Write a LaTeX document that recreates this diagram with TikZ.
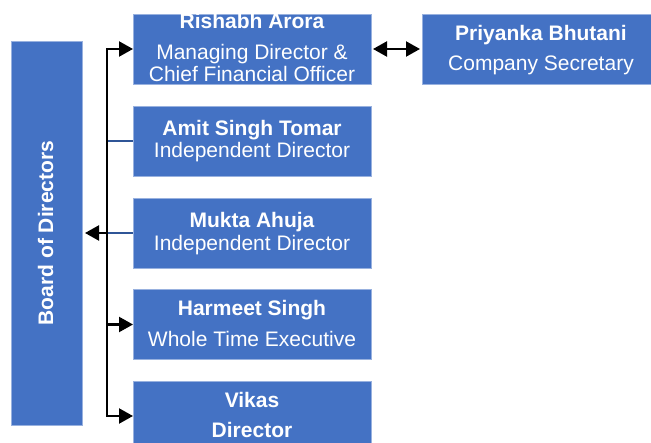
\documentclass[tikz,border=0pt]{standalone}
\usepackage{fontspec}
\setmainfont{Liberation Sans}
\usetikzlibrary{arrows.meta}
\definecolor{boxblue}{HTML}{4472C4}
\definecolor{linkblue}{HTML}{2F5597}
\begin{document}
\begin{tikzpicture}[x=1pt,y=-1pt,
  box/.style={fill=boxblue, draw=boxblue!55!white, line width=0.6pt, inner sep=0pt, outer sep=0pt},
  nm/.style={font=\fontsize{21}{22}\selectfont\bfseries, text=white, anchor=base, inner sep=0pt},
  rl/.style={font=\fontsize{21}{22}\selectfont, text=white, anchor=base, inner sep=0pt},
  conn/.style={line width=2.2pt, black},
  tipend/.style={-{Triangle[length=14pt,width=15pt]}},
  tipboth/.style={{Triangle[length=14pt,width=15pt]}-{Triangle[length=14pt,width=15pt]}},
  thinlink/.style={linkblue, line width=1.3pt}]
\useasboundingbox (0,0) rectangle (651,443);
% boxes
\node[box, minimum width=71pt, minimum height=384pt] (board) at (46.5,233) {};
\node[box, minimum width=238pt, minimum height=70pt] (rish) at (252,49) {};
\node[box, minimum width=238pt, minimum height=70pt] (priy) at (541,49) {};
\node[box, minimum width=238pt, minimum height=70pt] (amit) at (252,141) {};
\node[box, minimum width=238pt, minimum height=70pt] (mukta) at (252,233) {};
\node[box, minimum width=238pt, minimum height=70pt] (harm) at (252,324.5) {};
\node[box, minimum width=238pt, minimum height=70pt] (vikas) at (252,416) {};
% texts
\node[nm, rotate=90, anchor=center] (tboard) at (45.5,233) {Board of Directors};
\node[nm] (trish1) at (252,29) {Rishabh Arora};
\node[rl] (trish2) at (252,60) {Managing Director \&};
\node[rl] (trish3) at (252,82) {Chief Financial Officer};
\node[nm] (tpriy1) at (541,41) {Priyanka Bhutani};
\node[rl] (tpriy2) at (541,71) {Company Secretary};
\node[nm] (tamit1) at (252,136) {Amit Singh Tomar};
\node[rl] (tamit2) at (252,158) {Independent Director};
\node[nm] (tmukta1) at (252,228) {Mukta Ahuja};
\node[rl] (tmukta2) at (252,251) {Independent Director};
\node[nm] (tharm1) at (252,316) {Harmeet Singh};
\node[rl] (tharm2) at (252,347) {Whole Time Executive};
\node[nm] (tvikas1) at (252,408) {Vikas};
\node[nm] (tvikas2) at (252,438) {Director};
% connectors
\coordinate (bus) at (107,233);
\draw[thinlink] (bus |- amit.west) -- (amit.west);
\draw[thinlink] (bus) -- (mukta.west);
\draw[conn, tipboth] (rish.west) -| (bus) |- (vikas.west);
\draw[conn, tipend] (bus |- harm.west) -- (harm.west);
\draw[conn, tipend, shorten >=3pt] (bus) -- (board.east);
\draw[conn, tipboth, shorten <=2pt, shorten >=2pt] (rish.east) -- (priy.west);
\end{tikzpicture}
\end{document}
